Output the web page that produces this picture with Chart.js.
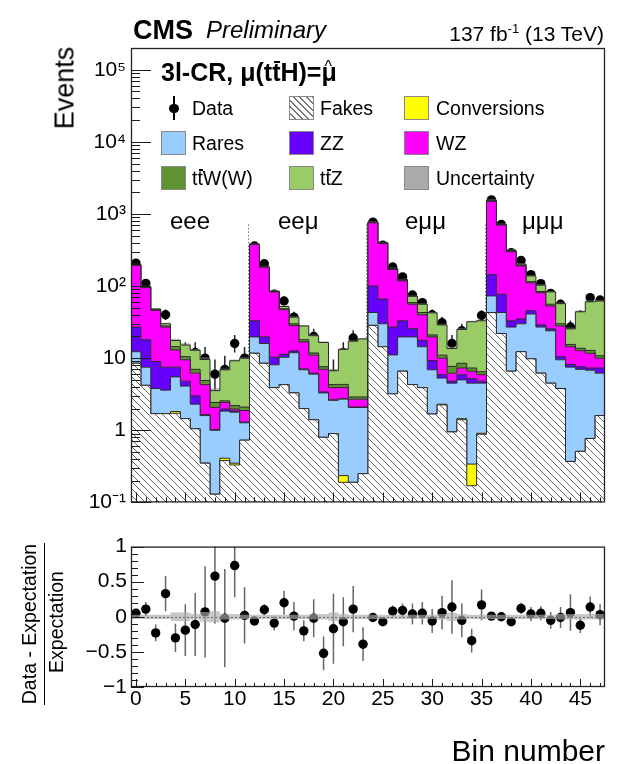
<!DOCTYPE html>
<html>
<head>
<meta charset="utf-8">
<script src="https://cdn.jsdelivr.net/npm/chart.js@4.4.1/dist/chart.umd.min.js"></script>
<style>
html,body{margin:0;padding:0;background:#fff;}
#wrap{position:relative;width:628px;height:764px;overflow:hidden;background:#fff;font-family:"Liberation Sans",Arial,Helvetica,sans-serif;color:#000;}
canvas{position:absolute;left:0;}
#main{top:0;}
#ratio{top:530px;}
.t{position:absolute;white-space:nowrap;line-height:1;}
.rot{transform:translate(-50%,-50%) rotate(-90deg);}
.sw{position:absolute;width:25px;height:24px;box-sizing:border-box;border:1px solid #888;}
.ov{position:relative;display:inline-block;line-height:1;}
.ov::before{content:"";position:absolute;left:0.06em;right:0;top:0.03em;height:0.075em;background:#000;}
.hat{position:relative;display:inline-block;line-height:1;}
.hat::after{content:"^";position:absolute;left:3px;top:-1px;font-size:16px;font-weight:normal;line-height:1;}
.lg{font-size:19.5px;}
</style>
</head>
<body>
<div id="wrap">
<canvas id="main" width="628" height="520"></canvas>
<canvas id="ratio" width="628" height="234"></canvas>

<div class="t" style="left:133px;top:17px;font-size:27px;font-weight:bold;">CMS</div>
<div class="t" style="left:206px;top:18px;font-size:24px;font-style:italic;">Preliminary</div>
<div class="t" style="right:24px;top:23px;font-size:21px;">137 fb<sup style="font-size:13px;vertical-align:8px;line-height:0;">-1</sup> (13 TeV)</div>
<div class="t rot" style="left:65px;top:88px;font-size:27px;">Events</div>

<div class="t" style="left:161px;top:60px;font-size:25px;font-weight:bold;">3l-CR, μ(t<span class="ov">t</span>H)=<span class="hat">μ</span></div>

<!-- legend -->
<div style="position:absolute;left:173px;top:96px;width:1.5px;height:24px;background:#000;"></div>
<div style="position:absolute;left:169px;top:103.5px;width:9.5px;height:9.5px;border-radius:50%;background:#000;"></div>
<div class="t lg" style="left:192px;top:98.5px;">Data</div>
<div class="sw" style="left:289px;top:96px;background:repeating-linear-gradient(45deg,#fff 0px,#fff 3.5px,#777 3.5px,#777 4.6px);"></div>
<div class="t lg" style="left:320px;top:98.5px;">Fakes</div>
<div class="sw" style="left:404px;top:96px;background:#ffff00;"></div>
<div class="t lg" style="left:436px;top:98.5px;">Conversions</div>

<div class="sw" style="left:161px;top:131px;background:#99ccff;"></div>
<div class="t lg" style="left:192px;top:133.5px;">Rares</div>
<div class="sw" style="left:289px;top:131px;background:#6600ff;"></div>
<div class="t lg" style="left:320px;top:133.5px;">ZZ</div>
<div class="sw" style="left:404px;top:131px;background:#ff00ff;"></div>
<div class="t lg" style="left:436px;top:133.5px;">WZ</div>

<div class="sw" style="left:161px;top:166px;background:#5f9233;"></div>
<div class="t lg" style="left:192px;top:168.5px;">t<span class="ov">t</span>W(W)</div>
<div class="sw" style="left:289px;top:166px;background:#99cc66;"></div>
<div class="t lg" style="left:320px;top:168.5px;">t<span class="ov">t</span>Z</div>
<div class="sw" style="left:404px;top:166px;background:#aaaaaa;"></div>
<div class="t lg" style="left:436px;top:168.5px;">Uncertainty</div>

<!-- channel labels -->
<div class="t" style="left:170px;top:209px;font-size:24px;">eee</div>
<div class="t" style="left:278px;top:209px;font-size:24px;">eeμ</div>
<div class="t" style="left:405px;top:209px;font-size:24px;">eμμ</div>
<div class="t" style="left:522px;top:209px;font-size:24px;">μμμ</div>

<!-- ratio axis title -->
<div class="t rot" style="left:30px;top:624px;font-size:19.5px;">Data - Expectation</div>
<div style="position:absolute;left:43.5px;top:543px;width:1.8px;height:162px;background:#000;"></div>
<div class="t rot" style="left:57px;top:622px;font-size:19.5px;">Expectation</div>

<div class="t" style="right:23px;top:736px;font-size:30px;">Bin number</div>
</div>

<script>
// ---------------- data ----------------
const bins = [0,1,2,3,4,5,6,7,8,9,10,11,12,13,14,15,16,17,18,19,20,21,22,23,24,25,26,27,28,29,30,31,32,33,34,35,36,37,38,39,40,41,42,43,44,45,46,47];

const fakes = [8.5,4.2,1.7,1.7,1.72,1.45,1.05,0.35,0.13,0.38,0.33,0.73,
  11.7,8.5,3.9,4.3,3.3,2.0,1.4,0.8,0.9,0.19,0.19,0.25,
  28.5,14.4,3.2,6.6,4.3,3.9,1.68,2.25,0.95,1.4,0.17,0.88,
  43,22,6.6,12.3,9.8,6.2,4.5,3.8,0.37,0.51,0.77,1.6];
const conversions = [0,0,0,0,0.1,0,0,0,0,0.03,0.02,0,
  0,0,0,0,0,0,0,0,0,0.045,0,0,
  0,0,0,0,0,0,0,0.05,0,0.05,0.17,0.03,
  0,0,0,0,0,0,0,0,0,0,0,0];
const rares = [3.8,3.3,2.1,1.9,3.68,2.65,1.25,1.25,0.87,1.43,1.43,0.54,
  8.0,7.5,4.2,6.0,8.6,4.9,4.6,2.5,1.7,2.47,1.88,1.82,
  14.5,15.6,7.9,13.1,15.4,10.5,5.22,3.0,3.55,3.55,4.16,3.59,
  30,21,20.4,17.7,31.2,20.8,19.5,5.7,7.13,6.49,6.03,4.6];
const zz = [14.7,10.5,5.2,3.9,2.0,0.7,0.7,0.05,0.02,0.13,0.07,0.03,
  13.3,3.7,2.2,1.0,0.7,0.2,0.2,0.1,0.05,0.02,0.03,0.03,
  57,36,15.9,13.3,5.9,3.3,2.4,0.6,0.3,0.9,0.7,0.3,
  71,34,6,5,4.5,2,1.5,1.0,0.7,0.6,0.5,1.1];
const wz = [167,77,37,19.5,5.5,4.7,3.2,2.65,1.06,0.46,0.12,0.58,
  345,163,72.7,35.7,15.8,9.7,4.8,3.6,1.25,1.2,0.6,0.6,
  654,324,143,85,30.4,22.3,10.4,4.1,1.4,1.4,1.4,1.1,
  1356,623,267,155,65.5,52,27.5,17.5,6.2,5.1,4.4,2.7];
const ttw = [2,1.5,1,1,1.5,1.0,0.8,0.6,0.35,0.13,0.23,0.22,
  2,1,1,1.5,1.6,1.2,0.8,0.6,0.4,0.4,0.2,0.2,
  11,4,2,2,3,3,1.3,1.0,1.5,1.2,0.7,0.6,
  25,8,6,5,4,3,3,2,1.1,1.0,1.1,0.8];
const ttz = [2,1.5,1,2,3.1,4.7,5.9,4.7,1.12,4.34,7.0,7.9,
  2,1.3,1,3.5,7,10,8.7,8.9,2.4,8.9,14.3,15.6,
  13,4,3,3,13,13,21.5,17.9,5.9,16.5,24.7,26.5,
  25,8,7,7,23,19,27,27,10,30.3,47.7,51.2];

const dataCounts = [208,109,37,40,12,12,12,10,6,7,16,10,
  359,204,77,62,37,22,20,8,6,12,19,11,
  770,370,184,134,75,59,40,31,16,24,21,39,
  1567,716,291,226,144,108,79,56,27,39,69,64];
const dataErrLo = [14.4,10.4,6.0,6.3,3.4,3.4,3.4,3.1,2.4,2.6,4.0,3.1,
  18.9,14.3,8.8,7.9,6.0,4.6,4.4,2.8,2.4,3.4,4.3,3.3,
  27.7,19.2,13.6,11.6,8.7,7.7,6.3,5.5,4.0,4.9,4.5,6.2,
  39.6,26.8,17.1,15.0,12.0,10.4,8.9,7.5,5.2,6.2,8.3,8.0];
const dataErrHi = [15.4,11.4,7.1,7.4,4.6,4.6,4.6,4.3,3.6,3.8,5.0,4.3,
  19.9,15.3,9.8,8.9,7.1,5.7,5.5,4.0,3.6,4.6,5.4,4.4,
  28.7,20.2,14.6,12.6,9.7,8.7,7.4,6.6,5.0,6.0,5.6,7.3,
  40.6,27.8,18.1,16.0,13.0,11.4,9.9,8.5,6.2,7.3,9.3,9.0];

const relUnc = [0.03,0.03,0.03,0.03,0.06,0.06,0.04,0.07,0.08,0.04,0.04,0.03,
  0.03,0.03,0.03,0.03,0.03,0.03,0.04,0.04,0.06,0.04,0.03,0.03,
  0.03,0.03,0.03,0.03,0.03,0.03,0.03,0.04,0.06,0.04,0.03,0.03,
  0.03,0.03,0.03,0.03,0.03,0.03,0.03,0.04,0.04,0.04,0.04,0.04];

const ratioVals = [0.05,0.11,-0.23,0.33,-0.30,-0.19,-0.11,0.07,0.58,-0.02,0.73,0.02,
  -0.06,0.10,-0.09,0.20,0.01,-0.20,-0.02,-0.52,-0.17,-0.07,0.11,-0.39,
  -0.01,-0.07,0.08,0.09,0.04,0.05,-0.06,0.06,0.14,-0.05,-0.34,0.17,
  0.01,0.0,-0.07,0.12,0.04,0.05,-0.05,-0.01,0.06,-0.12,0.14,0.03];
const ratioErr = [0.04,0.1,0.12,0.25,0.2,0.37,0.45,0.65,0.68,0.7,0.45,0.4,
  0.05,0.08,0.1,0.17,0.2,0.15,0.27,0.24,0.5,0.35,0.33,0.24,
  0.03,0.04,0.08,0.1,0.15,0.16,0.17,0.24,0.38,0.24,0.17,0.22,
  0.03,0.04,0.04,0.08,0.1,0.1,0.12,0.15,0.26,0.11,0.15,0.15];

const channelEdges = [11.5,23.5,35.5];
const yMainTicks = [0.1,1,10,100,1000,10000,100000];
const yMainLabels = ['10⁻¹','1','10','10²','10³','10⁴','10⁵'];
const yRatioTicks = [-1,-0.5,0,0.5,1];
const yRatioLabels = ['−1','−0.5','0','0.5','1'];
const xTickVals = [0,5,10,15,20,25,30,35,40,45];

// ---------------- setup ----------------
Chart.defaults.font.family = '"Liberation Sans", Arial, sans-serif';
Chart.defaults.color = '#000';

const mainCanvas = document.getElementById('main');
const mctx = mainCanvas.getContext('2d');
function hatchPattern(ctx){
  const s = 7;
  const c = document.createElement('canvas'); c.width = s; c.height = s;
  const g = c.getContext('2d');
  g.fillStyle = '#fff'; g.fillRect(0,0,s,s);
  g.strokeStyle = '#666'; g.lineWidth = 1;
  g.beginPath();
  g.moveTo(-1,-1); g.lineTo(s+1,s+1);
  g.moveTo(-s-1,-1); g.lineTo(1,s+1);
  g.moveTo(s-1,-1); g.lineTo(2*s+1,s+1);
  g.stroke();
  return ctx.createPattern(c,'repeat');
}

const layers = [
  {label:'Fakes', vals:fakes, color:hatchPattern(mctx)},
  {label:'Conversions', vals:conversions, color:'#ffff00'},
  {label:'Rares', vals:rares, color:'#99ccff'},
  {label:'ZZ', vals:zz, color:'#6600ff'},
  {label:'WZ', vals:wz, color:'#ff00ff'},
  {label:'ttW(W)', vals:ttw, color:'#5f9233'},
  {label:'ttZ', vals:ttz, color:'#99cc66'}
];

function stepPts(vals){
  const pts = bins.map((b,i)=>({x:b-0.5, y:vals[i]}));
  pts.push({x:bins[bins.length-1]+0.5, y:vals[vals.length-1]});
  return pts;
}

let cum = bins.map(()=>0);
const mainDatasets = layers.map((L,k)=>{
  cum = cum.map((c,i)=>c+L.vals[i]);
  return {label:L.label, data:stepPts(cum), stepped:true, fill:k===0?'start':'-1',
    backgroundColor:L.color, borderColor:'#2a2a2a', borderWidth:1, pointRadius:0};
});
const total = cum;
mainDatasets.push({label:'unc-lo', data:stepPts(total.map((t,i)=>t*(1-relUnc[i]))), stepped:true, fill:false, borderWidth:0, pointRadius:0});
mainDatasets.push({label:'Uncertainty', data:stepPts(total.map((t,i)=>t*(1+relUnc[i]))), stepped:true, fill:'-1', backgroundColor:'rgba(140,140,140,0.55)', borderWidth:0, pointRadius:0});
mainDatasets.push({label:'Data', data:bins.map((b,i)=>({x:b,y:dataCounts[i]})), showLine:false,
  pointRadius:4.7, pointBackgroundColor:'#000', pointBorderWidth:0, errLo:dataErrLo, errHi:dataErrHi, errColor:'#222', errWidth:1.5});

// ---------------- plugins ----------------
const errBars = {
  id:'errBars',
  beforeDatasetDraw(chart,args){
    const ds = chart.data.datasets[args.index];
    const {ctx, chartArea:a, scales:{x,y}} = chart;
    if (ds.zeroLine){
      ctx.save(); ctx.strokeStyle='#000'; ctx.lineWidth=1.2; ctx.setLineDash([2,2]);
      const py = Math.round(y.getPixelForValue(0))+0.5;
      ctx.beginPath(); ctx.moveTo(a.left,py); ctx.lineTo(a.right,py); ctx.stroke(); ctx.restore();
    }
    if (!ds.errLo) return;
    ctx.save();
    ctx.beginPath(); ctx.rect(a.left,a.top,a.right-a.left,a.bottom-a.top); ctx.clip();
    ctx.strokeStyle = ds.errColor; ctx.lineWidth = ds.errWidth;
    ds.data.forEach((p,i)=>{
      const lo = Math.max(p.y-ds.errLo[i], y.min);
      const hi = p.y+ds.errHi[i];
      const px = x.getPixelForValue(p.x);
      ctx.beginPath(); ctx.moveTo(px,y.getPixelForValue(lo)); ctx.lineTo(px,y.getPixelForValue(hi)); ctx.stroke();
    });
    ctx.restore();
  }
};

const separators = {
  id:'separators',
  beforeDatasetsDraw(chart,args,o){
    if (!o.edges) return;
    const {ctx, chartArea:a, scales:{x,y}} = chart;
    ctx.save(); ctx.strokeStyle='#777'; ctx.lineWidth=1; ctx.setLineDash([1.5,2]);
    o.edges.forEach(e=>{
      const px = Math.round(x.getPixelForValue(e))-1.5;
      ctx.beginPath(); ctx.moveTo(px,a.bottom); ctx.lineTo(px,y.getPixelForValue(o.top)); ctx.stroke();
    });
    ctx.restore();
  }
};

const frameTicks = {
  id:'frameTicks',
  afterDraw(chart,args,o){
    const {ctx, chartArea:a, scales:{x,y}} = chart;
    ctx.save(); ctx.strokeStyle='#1a1a1a'; ctx.lineWidth=1;
    ctx.beginPath();
    for (let v=Math.ceil(x.min); v<=x.max; v++){
      const px = Math.round(x.getPixelForValue(v))+0.5;
      const len = (v%5===0)?o.xMajor:o.xMinor;
      ctx.moveTo(px,a.bottom); ctx.lineTo(px,a.bottom-len);
    }
    o.yMinor.forEach(v=>{
      if (v<y.min-1e-9 || v>y.max+1e-9) return;
      const py = Math.round(y.getPixelForValue(v))+0.5;
      ctx.moveTo(a.left,py); ctx.lineTo(a.left+o.yMinorLen,py);
    });
    o.yMajor.forEach(v=>{
      if (v<y.min-1e-9 || v>y.max+1e-9) return;
      const py = Math.round(y.getPixelForValue(v))+0.5;
      ctx.moveTo(a.left,py); ctx.lineTo(a.left+o.yMajorLen,py);
    });
    ctx.stroke();
    ctx.lineWidth=1.3; ctx.strokeStyle='#222';
    ctx.strokeRect(a.left+0.5,a.top+0.5,a.right-a.left-1,a.bottom-a.top-1);
    ctx.restore();
  }
};

const mainMinor = [];
yMainTicks.forEach(d=>{ for (let k=2;k<=9;k++) mainMinor.push(d*k); });
const ratioMinor = [];
for (let k=-10;k<=10;k++) ratioMinor.push(k/10);

// ---------------- main chart ----------------
new Chart(mctx, {
  type:'line',
  data:{datasets:mainDatasets},
  plugins:[errBars, separators, frameTicks],
  options:{
    responsive:false, animation:false, devicePixelRatio:1,
    layout:{padding:{top:48,right:23,left:0,bottom:0}},
    plugins:{legend:{display:false}, tooltip:{enabled:false},
      separators:{edges:channelEdges, top:740},
      frameTicks:{xMajor:10,xMinor:5,yMajor:yMainTicks,yMinor:mainMinor,yMajorLen:20,yMinorLen:9}},
    scales:{
      x:{type:'linear', min:-0.5, max:47.5, grid:{display:false,drawTicks:false}, border:{display:false},
         ticks:{display:false}, afterFit(s){s.height=10;}},
      y:{type:'logarithmic', min:0.1, max:2.0e5, grid:{display:false,drawTicks:false}, border:{display:false},
         afterBuildTicks(s){ s.ticks = yMainTicks.map(v=>({value:v})); },
         ticks:{autoSkip:false, padding:5, font:{size:21}, color:'#000',
           callback(v){ const i = yMainTicks.findIndex(t=>Math.abs(t-v)/t<1e-6); return i>=0?yMainLabels[i]:''; }},
         afterFit(s){s.width=131;}}
    }
  }
});

// ---------------- ratio chart ----------------
const rctx = document.getElementById('ratio').getContext('2d');
new Chart(rctx, {
  type:'line',
  data:{datasets:[
    {label:'band-lo', data:stepPts(relUnc.map(u=>-u)), stepped:true, fill:false, borderWidth:0, pointRadius:0},
    {label:'band', data:stepPts(relUnc), stepped:true, fill:'-1', backgroundColor:'rgba(170,170,170,0.65)', borderWidth:0, pointRadius:0},
    {label:'ratio', data:bins.map((b,i)=>({x:b,y:ratioVals[i]})), showLine:false, pointRadius:4.7,
     pointBackgroundColor:'#000', pointBorderWidth:0, errLo:ratioErr, errHi:ratioErr, errColor:'#666', errWidth:1.5, zeroLine:true}
  ]},
  plugins:[errBars, frameTicks],
  options:{
    responsive:false, animation:false, devicePixelRatio:1,
    layout:{padding:{top:15,right:23,left:0,bottom:0}},
    plugins:{legend:{display:false}, tooltip:{enabled:false},
      frameTicks:{xMajor:8,xMinor:4,yMajor:yRatioTicks,yMinor:ratioMinor,yMajorLen:13,yMinorLen:7}},
    scales:{
      x:{type:'linear', min:-0.5, max:47.5, grid:{display:false,drawTicks:false}, border:{display:false},
         afterBuildTicks(s){ s.ticks = xTickVals.map(v=>({value:v})); },
         ticks:{autoSkip:false, maxRotation:0, padding:0, font:{size:21}, color:'#000', callback(v){ return String(v); }},
         afterFit(s){s.height=77;}},
      y:{type:'linear', min:-1, max:1, grid:{display:false,drawTicks:false}, border:{display:false},
         afterBuildTicks(s){ s.ticks = yRatioTicks.map(v=>({value:v})); },
         ticks:{autoSkip:false, padding:4, font:{size:21}, color:'#000',
           callback(v){ const i = yRatioTicks.findIndex(t=>Math.abs(t-v)<1e-9); return i>=0?yRatioLabels[i]:''; }},
         afterFit(s){s.width=131;}}
    }
  }
});
</script>
</body>
</html>
